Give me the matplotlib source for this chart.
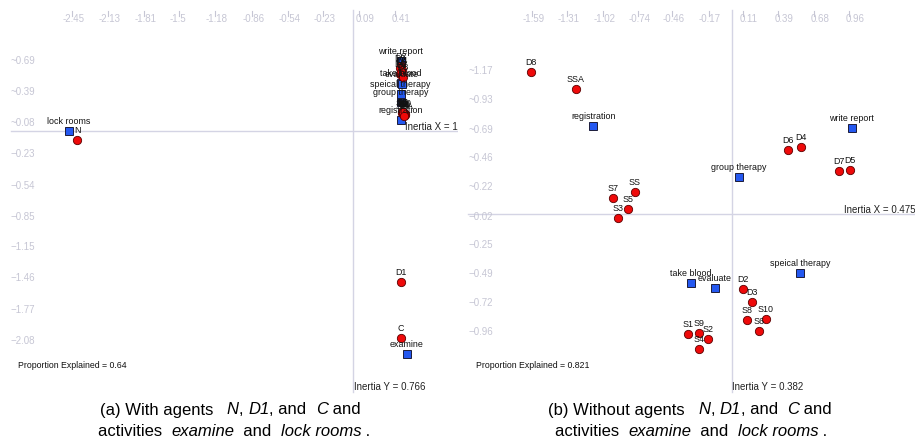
import matplotlib
matplotlib.use('Agg')
import matplotlib.pyplot as plt
from matplotlib.transforms import blended_transform_factory, offset_copy

plt.rcParams['font.family'] = ['Liberation Sans', 'DejaVu Sans']

# ---- panel (a): with N, D1, C, examine, lock rooms ----
a_agents = ['N', 'D1', 'C', 'D2', 'D3', 'D4', 'D5', 'D6', 'D7', 'D8',
            'S1', 'S2', 'S3', 'S4', 'S5', 'S6', 'S7', 'S8', 'S9', 'S10', 'SS', 'SSA']
a_agent_x = [-2.447, 0.42, 0.42, 0.422, 0.414, 0.431, 0.422, 0.414, 0.431, 0.440,
             0.440, 0.449, 0.431, 0.449, 0.440, 0.458, 0.431, 0.458, 0.440, 0.449, 0.440, 0.449]
a_agent_y = [-0.089, -1.492, -2.052, 0.644, 0.624, 0.604, 0.584, 0.564, 0.554, 0.535,
             0.178, 0.168, 0.188, 0.158, 0.188, 0.168, 0.178, 0.158, 0.168, 0.178, 0.188, 0.149]
a_acts = ['write report', 'take blood', 'evaluate', 'speical therapy', 'group therapy',
          'registration', 'examine', 'lock rooms']
a_act_x = [0.420, 0.420, 0.427, 0.420, 0.420, 0.420, 0.473, -2.518]
a_act_y = [0.698, 0.480, 0.465, 0.371, 0.287, 0.109, -2.208, 0.0]
a_xticks = [-2.45, -2.13, -1.81, -1.5, -1.18, -0.86, -0.54, -0.23, 0.09, 0.41]
a_yticks = [0.69, 0.39, 0.08, -0.23, -0.54, -0.85, -1.15, -1.46, -1.77, -2.08]
a_inertia_x, a_inertia_y, a_prop = '1', '0.766', '0.64'

# ---- panel (b): without them ----
b_agents = ['D8', 'SSA', 'SS', 'S7', 'S5', 'S3', 'D6', 'D4', 'D7', 'D5', 'D2', 'D3',
            'S8', 'S10', 'S6', 'S1', 'S9', 'S2', 'S4']
b_agent_x = [-1.612, -1.251, -0.777, -0.956, -0.831, -0.916, 0.455, 0.557, 0.859, 0.953,
             0.093, 0.161, 0.123, 0.273, 0.222, -0.349, -0.260, -0.188, -0.260]
b_agent_y = [1.164, 1.020, 0.184, 0.136, 0.041, -0.028, 0.525, 0.552, 0.353, 0.359,
             -0.610, -0.713, -0.865, -0.857, -0.950, -0.980, -0.967, -1.018, -1.097]
b_acts = ['registration', 'group therapy', 'write report', 'speical therapy',
          'take blood', 'evaluate']
b_act_x = [-1.112, 0.059, 0.964, 0.549, -0.327, -0.137]
b_act_y = [0.721, 0.307, 0.702, -0.482, -0.558, -0.604]
b_xticks = [-1.59, -1.31, -1.02, -0.74, -0.46, -0.17, 0.11, 0.39, 0.68, 0.96]
b_yticks = [1.17, 0.93, 0.69, 0.46, 0.22, -0.02, -0.25, -0.49, -0.72, -0.96]
b_inertia_x, b_inertia_y, b_prop = '0.475', '0.382', '0.821'

# captions: (text, italic?) pieces
cap_a1 = [('(a) With agents   ', False), ('N', True), (', ', False), ('D1', True),
          (', and  ', False), ('C', True), (' and', False)]
cap_b1 = [('(b) Without agents   ', False), ('N', True), (', ', False), ('D1', True),
          (', and  ', False), ('C', True), (' and', False)]
cap_2 = [('activities  ', False), ('examine', True), ('  and  ', False),
         ('lock rooms', True), (' .', False)]

W, H = 915, 442
fig = plt.figure(figsize=(W / 100, H / 100), dpi=100)
renderer = fig.canvas.get_renderer()

TICK_C = '#c6c6d4'
LINE_C = '#d4d4e4'
RED = '#ee0a0a'
BLUE = '#2458f0'


def fmt_y(v):
    return ('~' if v > 0 else '\u2212') + f'{abs(v):.2f}'


def draw_panel(left_px, width_px, ox, oy, sx, sy, tick_shift,
               agents, ag_x, ag_y, acts, act_x, act_y, xticks, yticks,
               inertia_x, inertia_y, prop):
    ax = fig.add_axes([left_px / W, 0, width_px / W, 1])
    ax.set_axis_off()
    ax.set_xlim(-ox / sx, (width_px - ox) / sx)
    ax.set_ylim((oy - H) / sy, oy / sy)

    # axis lines through the origin
    ax.axvline(0, ymin=1 - 392 / H, ymax=1 - 10 / H, color=LINE_C, lw=1)
    ax.axhline(0, xmin=10.5 / width_px, xmax=1, color=LINE_C, lw=1)

    # x ticks on top
    bt = blended_transform_factory(ax.transData, ax.transAxes)
    for v in xticks:
        ax.plot([v, v], [1 - 11 / H, 1 - 16 / H], color=TICK_C, lw=0.8,
                transform=offset_copy(bt, fig=fig, x=tick_shift, units='dots'),
                clip_on=False)
        lab = f'{v:g}' if abs(v * 10 - round(v * 10)) < 1e-9 else f'{v:.2f}'
        dx = tick_shift + (-9.5 if v < 0 else -3.5)
        ax.text(v, 1 - 18.5 / H, lab, fontsize=7, color=TICK_C, ha='left', va='center',
                transform=offset_copy(bt, fig=fig, x=dx, units='dots'))

    # y tick labels on the left
    bty = blended_transform_factory(ax.transAxes, ax.transData)
    for v in yticks:
        ax.text(10.5 / width_px, v, fmt_y(v), fontsize=7, color=TICK_C,
                ha='left', va='center', transform=bty)

    ax.plot(act_x, act_y, 's', ms=6.2, mfc=BLUE, mec='#1c1c3a', mew=0.7, ls='none')
    ax.plot(ag_x, ag_y, 'o', ms=6, mfc=RED, mec='#5a0000', mew=0.6, ls='none')
    for name, x, y in list(zip(acts, act_x, act_y)) + list(zip(agents, ag_x, ag_y)):
        ax.annotate(name, (x, y), xytext=(0, 6.84), textcoords='offset points',
                    ha='center', va='center', fontsize=6.4, color='#111111')

    ax.text(1, 1 - (oy - 4) / H, f'Inertia X = {inertia_x}', transform=ax.transAxes,
            ha='right', va='center', fontsize=7, color='#222222')
    ax.text((ox + 0.5) / width_px, 1 - 386.5 / H, f'Inertia Y = {inertia_y}',
            transform=ax.transAxes, ha='left', va='center', fontsize=7, color='#222222')
    ax.text(18 / width_px, 1 - 366 / H, f'Proportion Explained = {prop}',
            transform=ax.transAxes, ha='left', va='center', fontsize=6.3, color='#111111')
    return ax


def caption_line(pieces, cx, cy, size=12):
    # place mixed upright / italic pieces side by side, centred on (cx, cy) pixels
    texts = []
    for s, it in pieces:
        t = fig.text(0, 1 - cy / H, s, fontsize=size, va='center', ha='left',
                     style='italic' if it else 'normal')
        texts.append(t)
    widths = [t.get_window_extent(renderer).width for t in texts]
    x = cx - sum(widths) / 2
    for t, w in zip(texts, widths):
        t.set_x(x / W)
        x += w


draw_panel(0, 458, 353.3, 131, 112.9, 101, -4.6,
           a_agents, a_agent_x, a_agent_y, a_acts, a_act_x, a_act_y,
           a_xticks, a_yticks, a_inertia_x, a_inertia_y, a_prop)
draw_panel(458, 457, 731.7 - 458, 214.3, 124.5, 122.5, -2,
           b_agents, b_agent_x, b_agent_y, b_acts, b_act_x, b_act_y,
           b_xticks, b_yticks, b_inertia_x, b_inertia_y, b_prop)

caption_line(cap_a1, 230, 410)
caption_line(cap_2, 234, 431)
caption_line(cap_b1, 690, 410)
caption_line(cap_2, 691, 431)

fig.savefig('out.png', dpi=100)
